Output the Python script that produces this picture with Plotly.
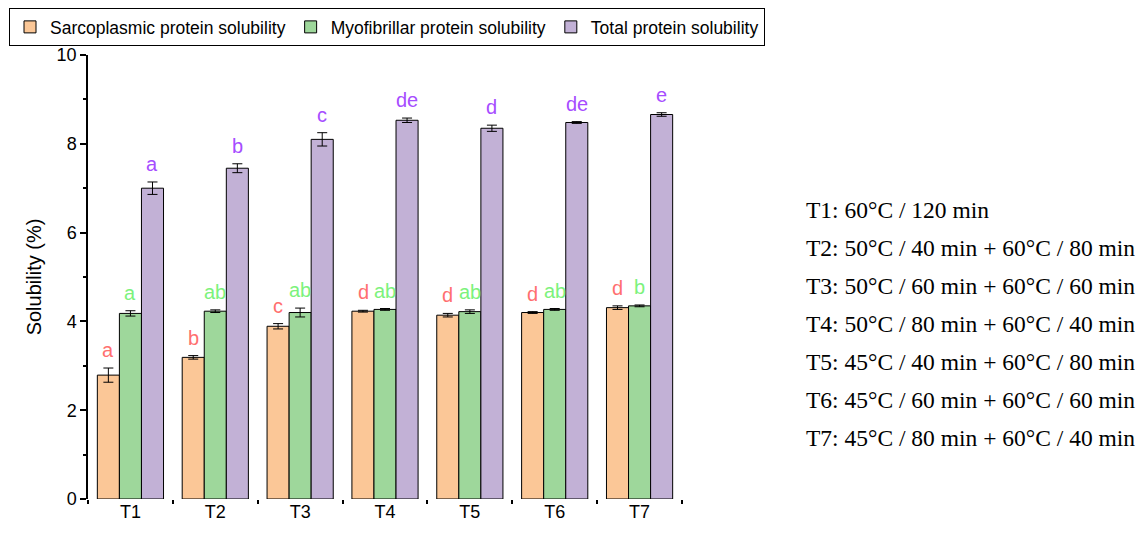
import plotly.graph_objects as go

treatments = ["T1", "T2", "T3", "T4", "T5", "T6", "T7"]

sarco = [2.79, 3.19, 3.89, 4.23, 4.14, 4.20, 4.31]
sarco_err = [0.16, 0.04, 0.06, 0.02, 0.04, 0.02, 0.04]
sarco_letters = ["a", "b", "c", "d", "d", "d", "d"]

myo = [4.18, 4.23, 4.20, 4.27, 4.22, 4.27, 4.35]
myo_err = [0.06, 0.03, 0.10, 0.02, 0.04, 0.02, 0.02]
myo_letters = ["a", "ab", "ab", "ab", "ab", "ab", "b"]

total = [7.00, 7.45, 8.10, 8.53, 8.35, 8.48, 8.66]
total_err = [0.14, 0.10, 0.15, 0.05, 0.07, 0.02, 0.04]
total_letters = ["a", "b", "c", "de", "d", "de", "e"]

notes = [
    "T1: 60°C / 120 min",
    "T2: 50°C / 40 min + 60°C / 80 min",
    "T3: 50°C / 60 min + 60°C / 60 min",
    "T4: 50°C / 80 min + 60°C / 40 min",
    "T5: 45°C / 40 min + 60°C / 80 min",
    "T6: 45°C / 60 min + 60°C / 60 min",
    "T7: 45°C / 80 min + 60°C / 40 min",
]

series = [
    ("Sarcoplasmic protein solubility", sarco, sarco_err, sarco_letters, "#FBC797", "#FF6F6F", -22),
    ("Myofibrillar protein solubility", myo, myo_err, myo_letters, "#9ED79B", "#7CF27C", 0),
    ("Total protein solubility", total, total_err, total_letters, "#C2B1D6", "#A64DFF", 22),
]

fig = go.Figure()

for name, vals, errs, letters, fill, txt, shift in series:
    fig.add_trace(
        go.Bar(
            x=treatments,
            y=vals,
            name=name,
            marker=dict(color=fill, line=dict(color="black", width=1)),
            error_y=dict(type="data", array=errs, color="black", thickness=1, width=5),
        )
    )
    for t, v, e, lab in zip(treatments, vals, errs, letters):
        fig.add_annotation(
            x=t, y=v + e, text=lab, showarrow=False, xshift=shift, yshift=5,
            yanchor="bottom", font=dict(size=20, color=txt, family="Arial"),
        )

# invisible trace on a twin x axis, only to draw the short ticks between groups
fig.add_trace(
    go.Scatter(
        x=treatments, y=[0] * len(treatments), xaxis="x2", mode="markers",
        marker=dict(opacity=0), showlegend=False, hoverinfo="skip",
    )
)

# page body adds an 8px offset; plot area in the window: x 88-682, y 55-499
for i, line in enumerate(notes):
    fig.add_annotation(
        xref="paper", yref="paper", x=(804 - 88) / 594, y=(499 - 210 - 38 * i) / 444,
        text=line, showarrow=False, xanchor="left", yanchor="middle",
        font=dict(size=23.5, color="black", family="Liberation Serif"),
    )

fig.update_layout(
    width=1129,
    height=526,
    margin=dict(l=80, r=455, t=47, b=35, autoexpand=False),
    plot_bgcolor="white",
    paper_bgcolor="white",
    barmode="group",
    bargap=0.22,
    bargroupgap=0,
    font=dict(family="Arial", color="black", size=18),
    legend=dict(
        orientation="h",
        x=(765 - 88) / 594,
        y=(499 - 8) / 444,
        xanchor="right",
        yanchor="top",
        bordercolor="black",
        borderwidth=1,
        font=dict(size=17.5, family="Arial"),
        itemwidth=30,
        tracegroupgap=0,
    ),
    xaxis2=dict(
        overlaying="x", matches="x", side="bottom", type="category",
        tickson="boundaries", ticks="outside", ticklen=4, tickwidth=1.5,
        tickcolor="black", showticklabels=False, showgrid=False, showline=False,
    ),
)

fig.update_xaxes(
    selector=dict(anchor="y"),
    showline=True, linecolor="black", linewidth=1.5, mirror=False,
    ticks="outside", ticklen=7, tickwidth=1.5, tickcolor="black",
    showgrid=False, ticklabelstandoff=8,
)
fig.update_yaxes(
    range=[0, 10], dtick=2, showline=True, linecolor="black", linewidth=1.5,
    ticks="outside", ticklen=6, tickwidth=1.5, tickcolor="black",
    showgrid=False, zeroline=False,
    minor=dict(dtick=1, ticks="outside", ticklen=3, tickcolor="black"),
    title=dict(text="Solubility (%)", font=dict(size=20), standoff=10),
)

fig.write_html("out.html")
